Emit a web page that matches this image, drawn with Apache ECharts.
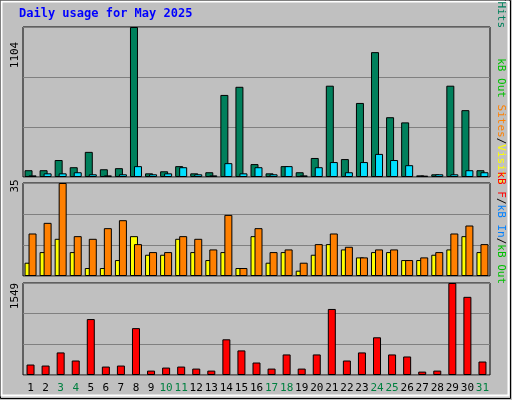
<!DOCTYPE html>
<html><head><meta charset="utf-8">
<script src="https://cdn.jsdelivr.net/npm/echarts@6/dist/echarts.min.js"></script>
<style>html,body{margin:0;padding:0;background:#c0c0c0}#c{width:512px;height:400px}</style>
</head><body><div id="c"></div>
<script>
const days = ['1','2','3','4','5','6','7','8','9','10','11','12','13','14','15','16','17','18','19','20','21','22','23','24','25','26','27','28','29','30','31'];
const weekendDays = ['3','4','10','11','17','18','24','25','31'];
const hits = [50,50,125,72,185,57,65,1104,27,42,80,27,35,604,664,95,27,80,35,140,672,132,545,919,440,402,12,20,672,492,50];
const pages = [12,27,27,35,20,12,20,80,20,27,72,20,12,102,27,72,20,80,12,72,110,35,110,170,125,87,10,20,20,50,35];
const visits = [5,9,14,9,3,3,6,15,8,8,14,9,6,9,3,15,5,9,2,8,12,10,7,9,9,6,6,8,10,15,9];
const sites = [16,20,35,15,14,18,21,12,9,9,15,14,10,23,3,18,9,10,5,12,16,11,7,10,10,6,7,9,16,19,12];
const kbytes = [176,159,380,244,942,142,159,789,74,125,142,108,74,601,414,210,108,346,108,346,1112,244,380,635,346,312,57,74,1549,1316,227];
const maxHits = 1104, maxSites = 35, maxKB = 1549;

const F = '"DejaVu Sans Mono", monospace';
const L = 23, W = 467;
const grids = [{top:27,height:150},{top:183,height:93},{top:283,height:92}];
function xAx(i){return {gridIndex:i,type:'category',data:days,boundaryGap:true,
  axisLine:{show:false},axisTick:{show:false},
  axisLabel:{show:i===2,interval:0,margin:8,fontFamily:F,fontSize:11,
    color:(v)=>weekendDays.includes(v)?'#008040':'#000'}};}
function yAx(i,max){return {gridIndex:i,type:'value',min:0,max:max,interval:max/3,
  axisLabel:{show:false},axisLine:{show:false},axisTick:{show:false},
  splitLine:{show:true,lineStyle:{color:'#808080',width:1}}};}
const bs = (c)=>({color:c,borderColor:'#000',borderWidth:1});
const chart = echarts.init(document.getElementById('c'));
chart.setOption({
  backgroundColor:'#c0c0c0',
  animation:false,
  grid:grids.map(g=>({left:L,width:W,top:g.top,height:g.height,show:true,borderColor:'#000',borderWidth:1,backgroundColor:'#c0c0c0'})),
  xAxis:[xAx(0),xAx(1),xAx(2)],
  yAxis:[yAx(0,maxHits),yAx(1,maxSites),yAx(2,maxKB)],
  series:[
    {type:'bar',xAxisIndex:0,yAxisIndex:0,data:hits,barWidth:8,barGap:'-50%',itemStyle:bs('#00805c')},
    {type:'bar',xAxisIndex:0,yAxisIndex:0,data:pages,barWidth:8,barGap:'-50%',itemStyle:bs('#00e0ff')},
    {type:'bar',xAxisIndex:1,yAxisIndex:1,data:visits,barWidth:8,barGap:'-50%',itemStyle:bs('#ffff00')},
    {type:'bar',xAxisIndex:1,yAxisIndex:1,data:sites,barWidth:8,barGap:'-50%',itemStyle:bs('#ff8000')},
    {type:'bar',xAxisIndex:2,yAxisIndex:2,data:kbytes,barWidth:8,itemStyle:bs('#ff0000')}
  ],
  graphic:[
    {type:'rect',shape:{x:0.5,y:0.5,width:510,height:398},style:{fill:'none',stroke:'#000',lineWidth:1},z:-1},
    {type:'rect',shape:{x:1.5,y:1.5,width:507,height:394},style:{fill:'none',stroke:'#fff',lineWidth:2},z:-1},
    {type:'text',left:19,top:8,style:{text:'Daily usage for May 2025',font:'bold 12px '+F,fill:'#0000ff'}},
    {type:'text',x:10,y:55,rotation:Math.PI/2,style:{text:'1104',font:'11px '+F,fill:'#000',align:'center',verticalAlign:'top'}},
    {type:'text',x:10,y:186,rotation:Math.PI/2,style:{text:'35',font:'11px '+F,fill:'#000',align:'center',verticalAlign:'top'}},
    {type:'text',x:10,y:296,rotation:Math.PI/2,style:{text:'1549',font:'11px '+F,fill:'#000',align:'center',verticalAlign:'top'}},
    {type:'text',x:506,y:28,rotation:-Math.PI/2,style:{text:'{a|Pages}{k|/}{b|Files}{k|/}{c|Hits}',align:'right',verticalAlign:'top',
      rich:{a:{fill:'#00e0ff',font:'11px '+F},b:{fill:'#0080ff',font:'11px '+F},c:{fill:'#00805c',font:'11px '+F},k:{fill:'#000',font:'11px '+F}}}},
    {type:'text',x:506,y:184,rotation:-Math.PI/2,style:{text:'{a|kB Out}{k| }{b|Sites}{k|/}{c|Visits}',align:'right',verticalAlign:'top',
      rich:{a:{fill:'#00c000',font:'11px '+F},b:{fill:'#ff8000',font:'11px '+F},c:{fill:'#ffff00',font:'11px '+F},k:{fill:'#000',font:'11px '+F}}}},
    {type:'text',x:506,y:284,rotation:-Math.PI/2,style:{text:'{a|kB F}{k|/}{b|kB In}{k|/}{c|kB Out}',align:'right',verticalAlign:'top',
      rich:{a:{fill:'#ff0000',font:'11px '+F},b:{fill:'#0080ff',font:'11px '+F},c:{fill:'#00c000',font:'11px '+F},k:{fill:'#000',font:'11px '+F}}}}
  ]
});
</script></body></html>
